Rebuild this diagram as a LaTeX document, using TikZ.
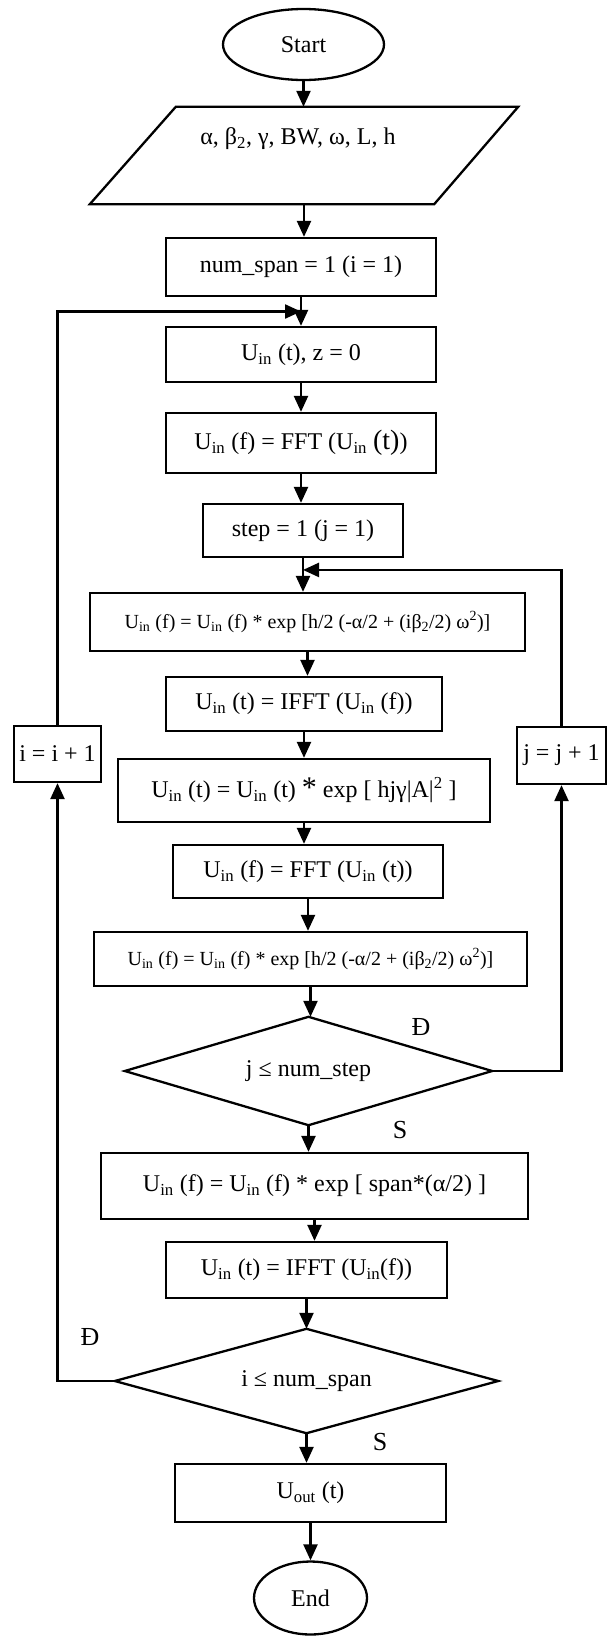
\documentclass[tikz,border=0pt]{standalone}
\usepackage{fontspec}
\setmainfont{Liberation Serif}
\usetikzlibrary{arrows.meta,shapes.geometric,calc}
\newcommand{\Uin}{U\textsubscript{in}}
\begin{document}
\begin{tikzpicture}[x=1pt,y=-1pt,
  every node/.style={font=\fontsize{24}{28}\selectfont, inner sep=0pt},
  box/.style={draw, line width=2.3pt, rectangle},
  term/.style={draw, line width=2.3pt, ellipse},
  shp/.style={line width=2.3pt},
  arr/.style={line width=2.3pt, -{Triangle[length=16pt,width=14pt]}},
  small/.style={font=\fontsize{20}{24}\selectfont}]
\useasboundingbox (0,0) rectangle (608,1636);
% nodes
\node[term, minimum width=161pt, minimum height=71pt] (start) at (303.5,44.5) {Start};
\node[minimum width=428pt, minimum height=97pt,
  label={[xshift=-6pt,yshift=17pt]center:α, β\textsubscript{2}, γ, BW, ω, L, h}] (inp) at (304,155.5) {};
\draw[shp] ($(inp.north west)+(86,0)$) -- (inp.north east) -- ($(inp.south east)+(-84,0)$) -- (inp.south west) -- cycle;
\node[box, minimum width=270pt, minimum height=58pt] (n1) at (301,267) {num\_span = 1 (i = 1)};
\node[box, minimum width=270pt, minimum height=55pt] (n2) at (301,354.5) {\Uin{} (t), z = 0};
\node[box, minimum width=270pt, minimum height=60pt] (n3) at (301,443) {\Uin{} (f) = FFT (\Uin{} {\fontsize{28}{28}\selectfont (t)})};
\node[box, minimum width=200pt, minimum height=53pt] (n4) at (303,530.5) {step = 1 (j = 1)};
\node[box, small, minimum width=435pt, minimum height=58pt] (n5) at (307.5,622) {\Uin{} (f) = \Uin{} (f) * exp [h/2 (-α/2 + (iβ\textsubscript{2}/2) ω\textsuperscript{2})]};
\node[box, minimum width=276pt, minimum height=54pt] (n6) at (304,704) {\Uin{} (t) = IFFT (\Uin{} (f))};
\node[box, minimum width=372pt, minimum height=63pt] (n7) at (304,790.5) {\Uin{} (t) = \Uin{} (t) {\fontsize{30}{30}\selectfont *} exp [ hjγ|A|\textsuperscript{2} ]};
\node[box, minimum width=270pt, minimum height=53pt] (n8) at (308,871.5) {\Uin{} (f) = FFT (\Uin{} (t))};
\node[box, small, minimum width=433pt, minimum height=54pt] (n9) at (310.5,959) {\Uin{} (f) = \Uin{} (f) * exp [h/2 (-α/2 + (iβ\textsubscript{2}/2) ω\textsuperscript{2})]};
\node[minimum width=367pt, minimum height=108pt] (d1) at (308.5,1071) {j ≤ num\_step};
\draw[shp] (d1.north) -- (d1.east) -- (d1.south) -- (d1.west) -- cycle;
\node[box, minimum width=427pt, minimum height=66pt] (n10) at (314.5,1186) {\Uin{} (f) = \Uin{} (f) * exp [ span*(α/2) ]};
\node[box, minimum width=281pt, minimum height=56pt] (n11) at (306.5,1270) {\Uin{} (t) = IFFT (\Uin{}(f))};
\node[minimum width=383pt, minimum height=104pt] (d2) at (306.5,1381) {i ≤ num\_span};
\draw[shp] (d2.north) -- (d2.east) -- (d2.south) -- (d2.west) -- cycle;
\node[box, minimum width=271pt, minimum height=58pt] (n12) at (310.5,1493) {U\textsubscript{out} (t)};
\node[term, minimum width=113pt, minimum height=73pt] (end) at (310.5,1598) {End};
\node[box, minimum width=87pt, minimum height=56pt] (ibox) at (57.5,754) {i = i + 1};
\node[box, minimum width=89pt, minimum height=57pt] (jbox) at (561.5,755.5) {j = j + 1};
% labels
\node[font=\fontsize{26}{30}\selectfont] (l1) at (421,1027) {Đ};
\node[font=\fontsize{26}{30}\selectfont] (l2) at (400,1130) {S};
\node[font=\fontsize{26}{30}\selectfont] (l3) at (90,1337) {Đ};
\node[font=\fontsize{26}{30}\selectfont] (l4) at (380,1442) {S};
% connectors
\draw[arr] (start.south) -- (start.south |- inp.north);
\draw[arr] (inp.south) -- (inp.south |- n1.north);
\draw[arr] (n1.south) -- (n1.south |- n2.north);
\draw[arr] (n2.south) -- (n2.south |- n3.north);
\draw[arr] (n3.south) -- (n3.south |- n4.north);
\draw[arr] (n4.south) -- (n4.south |- n5.north);
\draw[arr] (n5.south) -- (n5.south |- n6.north);
\draw[arr] (n6.south) -- (n6.south |- n7.north);
\draw[arr] (n7.south) -- (n7.south |- n8.north);
\draw[arr] (n8.south) -- (n8.south |- n9.north);
\draw[arr] (n9.south) -- (n9.south |- d1.north);
\draw[arr] (d1.south) -- (d1.south |- n10.north);
\draw[arr] (n10.south) -- (n10.south |- n11.north);
\draw[arr] (n11.south) -- (n11.south |- d2.north);
\draw[arr] (d2.south) -- (d2.south |- n12.north);
\draw[arr] (n12.south) -- (n12.south |- end.north);
\coordinate (m1) at ($(n1.south)!0.5!(n1.south |- n2.north)$);
\coordinate (m2) at ($(n4.south)!0.35!(n4.south |- n5.north)$);
\draw[arr] (d2.west) -| (ibox.south);
\draw[arr] (ibox.north) |- (m1);
\draw[arr] (d1.east) -| (jbox.south);
\draw[arr] (jbox.north) |- (m2);
\end{tikzpicture}
\end{document}
